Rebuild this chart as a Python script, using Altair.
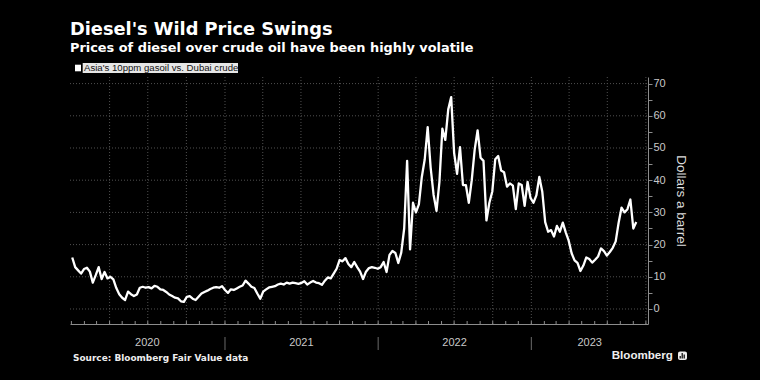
import altair as alt
import pandas as pd

# ---- data ----
start_date = "2020-01-03"
n_weeks = 193
spread = [
    16.0, 13.0, 12.0, 11.0, 12.4, 12.8, 11.6, 8.2, 10.5, 13.0,
    9.3, 11.5, 9.5, 10.0, 9.2, 6.5, 4.6, 3.5, 2.8, 5.4,
    4.6, 4.0, 4.5, 6.6, 6.9, 6.6, 6.8, 6.4, 7.2, 6.9,
    6.1, 5.9, 5.3, 4.5, 4.0, 3.5, 3.3, 2.4, 2.2, 3.8,
    4.0, 3.2, 2.8, 3.8, 4.8, 5.3, 5.7, 6.2, 6.6, 6.8,
    6.6, 7.1, 5.9, 5.0, 6.1, 5.9, 6.4, 6.9, 7.3, 8.8,
    7.9, 6.9, 6.5, 4.8, 3.2, 5.4, 6.1, 6.7, 6.9, 7.1,
    7.6, 7.9, 7.6, 8.2, 7.9, 8.2, 8.0, 7.8, 8.1, 8.6,
    7.6, 8.2, 8.7, 8.2, 8.0, 7.5, 8.8, 9.8, 9.5, 11.0,
    12.5, 15.2, 14.8, 15.8, 14.0, 13.0, 14.6, 13.0, 11.6, 9.3,
    11.6, 12.7, 13.0, 12.8, 12.5, 13.0, 14.6, 11.5, 16.8, 18.0,
    17.4, 14.3, 17.5, 25.0, 46.0, 18.5, 33.0, 30.0, 32.5, 41.0,
    46.5, 56.5, 44.0, 35.5, 30.5, 39.5, 56.0, 52.5, 62.0, 65.8,
    48.5, 42.0, 50.3, 38.5, 38.5, 33.0, 40.0, 49.5, 55.5, 47.0,
    46.0, 27.5, 33.0, 36.5, 46.5, 47.5, 43.0, 42.5, 38.0, 39.0,
    38.3, 31.0, 39.0, 38.5, 32.0, 39.5, 34.5, 33.0, 35.3, 41.0,
    36.5, 27.0, 24.0, 24.5, 22.5, 25.8, 24.0, 26.8, 23.8, 21.2,
    17.3, 15.1, 14.3, 11.8, 13.5, 16.0, 15.5, 14.4, 15.3, 16.3,
    18.8, 18.0, 16.6, 17.7, 19.0, 21.0, 26.8, 31.5, 30.0, 31.0,
    34.0, 25.0, 27.0,
]
y_ticks = [0, 10, 20, 30, 40, 50, 60, 70]
y_minor = list(range(0, 75, 5))
year_starts = ["2021-01-01", "2022-01-01", "2023-01-01"]
year_labels = ["2020", "2021", "2022", "2023"]
year_label_pos = ["2020-06-30", "2021-07-02", "2022-07-02", "2023-05-20"]
quarter_starts = pd.date_range("2020-04-01", "2023-10-01", freq="QS").strftime("%Y-%m-%d").tolist()
month_starts = pd.date_range("2020-01-01", "2023-10-01", freq="MS").strftime("%Y-%m-%d").tolist()

TITLE = "Diesel's Wild Price Swings"
SUBTITLE = "Prices of diesel over crude oil have been highly volatile"
LEGEND = "Asia's 10ppm gasoil vs. Dubai crude"
SOURCE = "Source: Bloomberg Fair Value data"
Y_TITLE = "Dollars a barrel"

W, H = 578, 247

df = pd.DataFrame({
    "date": pd.date_range(start_date, periods=n_weeks, freq="7D").strftime("%Y-%m-%d"),
    "value": spread,
})

xs = alt.Scale(domain=[alt.DateTime(year=2019, month=12, date=28, hours=16, utc=True),
                       alt.DateTime(year=2023, month=10, date=6, utc=True)])
ys = alt.Scale(domain=[-4.66, 72.05], nice=False, zero=False)

GRID = "#505050"
AXIS = "#8c8c8c"
LABEL = "#c8c8c8"

# one shared axis definition per channel, reused by every layer
X_AXIS = alt.Axis(labels=False, ticks=False, grid=False, title=None, domain=True,
                  domainColor=AXIS, domainWidth=1)
Y_AXIS = alt.Axis(orient="right", values=y_minor,
                  labelExpr="datum.value % 10 === 0 ? datum.label : ''",
                  grid=False, tickSize=4, tickColor=AXIS, domainColor=AXIS,
                  labelColor=LABEL, labelFont="Liberation Sans", labelFontSize=11,
                  labelPadding=1, labelBaseline="middle",
                  title=Y_TITLE, titleColor="#dddddd", titleFont="Liberation Sans",
                  titleFontSize=13.5, titleFontWeight="normal", titlePadding=8)


def X(field):
    return alt.X(field, scale=xs, axis=X_AXIS, title=None)


def Y(field):
    return alt.Y(field, scale=ys, axis=Y_AXIS, title=Y_TITLE)


hgrid = alt.Chart(pd.DataFrame({"v": y_ticks})).mark_rule(
    color=GRID, strokeDash=[1, 2], strokeWidth=1
).encode(y=Y("v:Q"), x=alt.value(0), x2=alt.value(W))

vgrid = alt.Chart(pd.DataFrame({"d": quarter_starts})).mark_rule(
    color=GRID, strokeDash=[1, 2], strokeWidth=1
).encode(x=X("d:T"), y=alt.value(0), y2=alt.value(H))

mticks = alt.Chart(pd.DataFrame({"d": month_starts})).mark_rule(
    color=AXIS, strokeWidth=1
).encode(x=X("d:T"), y=alt.value(H - 3), y2=alt.value(H))

ysep = alt.Chart(pd.DataFrame({"d": year_starts})).mark_rule(
    color="#6a6a6a", strokeWidth=1, clip=False
).encode(x=X("d:T"), y=alt.value(260), y2=alt.value(273))

ylab = alt.Chart(pd.DataFrame({"d": year_label_pos, "t": year_labels})).mark_text(
    color=LABEL, font="Liberation Sans", fontSize=11, align="center", baseline="middle"
).encode(x=X("d:T"), y=alt.value(266), text="t:N")

line = alt.Chart(df).mark_line(color="white", strokeWidth=2.3, strokeJoin="round").encode(
    x=X("date:T"),
    y=Y("value:Q"),
)


def txt(s, x, y, **kw):
    return alt.Chart(pd.DataFrame({"t": [s]})).mark_text(align="left", baseline="alphabetic", **kw).encode(
        x=alt.value(x), y=alt.value(y), text="t:N")


def box(x1, x2, y1, y2, color, **kw):
    return alt.Chart(pd.DataFrame({"a": [0]})).mark_rect(color=color, **kw).encode(
        x=alt.value(x1), x2=alt.value(x2), y=alt.value(y1), y2=alt.value(y2))


title = txt(TITLE, 0, -42, color="white", font="DejaVu Sans", fontSize=17.8, fontWeight="bold")
subtitle = txt(SUBTITLE, 0, -25.3, color="white", font="DejaVu Sans", fontSize=12.9, fontWeight="bold")

leg_box = box(12.7, 168, -14, -4, "#e6e6e6")
leg_sq = box(5, 11, -12.3, -5.7, "white")
leg_txt = txt(LEGEND, 14, -5.8, color="#111111", font="Liberation Sans", fontSize=9.6)

source = txt(SOURCE, 3, 284, color="#eeeeee", font="DejaVu Sans", fontSize=8.95, fontWeight="bold")
brand = txt("Bloomberg", 541.7, 282.3, color="#eeeeee", font="Liberation Sans", fontSize=11.6, fontWeight="bold")
logo = box(608, 617, 274.5, 283, "#eeeeee", cornerRadius=2)
logo_b1 = box(609.6, 610.8, 279, 281.5, "black")
logo_b2 = box(611.6, 612.8, 276, 281.5, "black")
logo_b3 = box(613.6, 614.8, 277.5, 281.5, "black")

chart = alt.layer(
    hgrid, vgrid, mticks, ysep, ylab, line,
    title, subtitle, leg_box, leg_sq, leg_txt, source, brand,
    logo, logo_b1, logo_b2, logo_b3,
).properties(
    width=W, height=H,
    autosize=alt.AutoSizeParams(type="none"),
    padding={"left": 62, "top": 69, "right": 100, "bottom": 44},
).configure(background="black").configure_view(stroke=None)

# make the page around the chart black as well
_orig_template = None
try:
    import altair.utils.html as _ah
    _orig_template = _ah.TEMPLATES["standard"]

    class _BlackPage:
        def render(self, **kw):
            html = _orig_template.render(**kw)
            style = "<style>html,body{background:#000;}</style>"
            if "</head>" in html:
                return html.replace("</head>", style + "</head>", 1)
            return style + html

    _ah.TEMPLATES["standard"] = _BlackPage()
except Exception:
    _orig_template = None

try:
    chart.save("out.html", embed_options={"renderer": "svg", "actions": False})
except Exception:
    if _orig_template is not None:
        _ah.TEMPLATES["standard"] = _orig_template
    chart.save("out.html", embed_options={"renderer": "svg", "actions": False})
